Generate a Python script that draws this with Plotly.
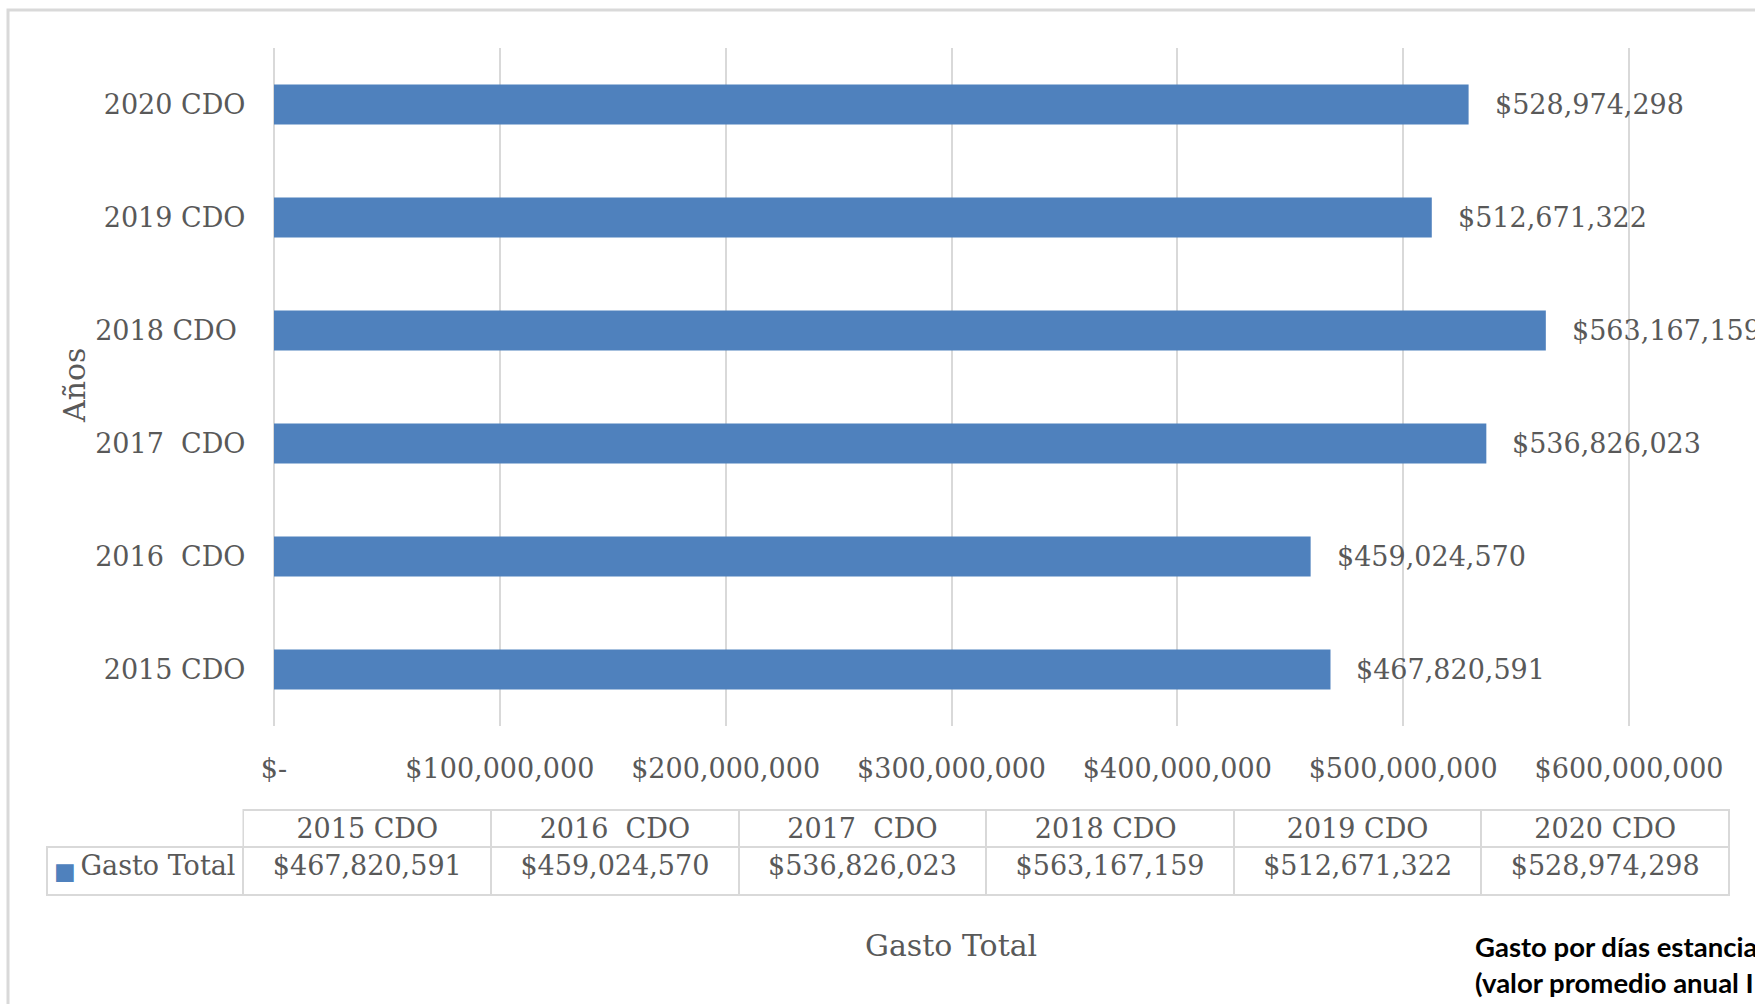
import plotly.graph_objects as go

# ---- data ----
categories = ["2015 CDO", "2016\u00a0 CDO", "2017\u00a0 CDO", "2018 CDO\u00a0", "2019 CDO", "2020 CDO"]
gasto_total = [467820591, 459024570, 536826023, 563167159, 512671322, 528974298]
x_tick_values = [0, 100000000, 200000000, 300000000, 400000000, 500000000, 600000000]
x_tick_labels = ["$-", "$100,000,000", "$200,000,000", "$300,000,000",
                 "$400,000,000", "$500,000,000", "$600,000,000"]
series_name = "Gasto Total"
y_title = "Años"
x_title = "Gasto Total"
note_text = "Gasto por días estancia<br>(valor promedio anual I"

W, H = 1755, 1004
BAR = "#4F81BD"
GRID = "#D9D9D9"
TXT = "#595959"
SERIF = "DejaVu Serif"
FS = 27


def px(x):
    return x / W


def py(y):
    return 1 - y / H


def money(v):
    return "${:,}".format(v)


# x axis: 0 at 274px, 600M at 1629px; pad the range a little so edge gridlines show
X0, X1 = 274.0, 1629.0
XMAX = 600000000
PAD = 2000000
ppu = (X1 - X0) / XMAX
x_domain = [px(X0 - PAD * ppu), px(X1 + PAD * ppu)]

fig = go.Figure()
fig.add_trace(go.Bar(
    y=categories, x=gasto_total, orientation="h",
    marker=dict(color=BAR, line=dict(width=0)),
    name=series_name, showlegend=False, hoverinfo="skip",
))

# data labels
for c, v in zip(categories, gasto_total):
    fig.add_annotation(x=v, y=c, xref="x", yref="y", text=money(v),
                       xanchor="left", yanchor="middle", xshift=24,
                       showarrow=False, font=dict(family=SERIF, size=FS, color=TXT))

# data table (legend key drawn as a separate glyph in the first cell)
ncol = len(categories)
line_cols = ["rgba(0,0,0,0)"] + [GRID] * ncol
fill_cols = ["rgba(0,0,0,0)"] + ["white"] * ncol
legend_cell = series_name.replace(" ", "\u00a0")
fig.add_trace(go.Table(
    domain=dict(x=[px(47), px(1729)], y=[py(899), py(810)]),
    columnwidth=[196] + [247] * ncol,
    header=dict(values=[""] + categories, height=37, align="center",
                line=dict(color=line_cols, width=2), fill=dict(color=fill_cols),
                font=dict(family=SERIF, size=FS, color=TXT)),
    cells=dict(values=[[legend_cell]] + [[money(v)] for v in gasto_total], height=48,
               align=["right"] + ["center"] * ncol,
               line=dict(color=GRID, width=2), fill=dict(color="white"),
               font=dict(family=SERIF, size=FS, color=TXT)),
))
fig.add_annotation(x=px(64.5), y=py(871), xref="paper", yref="paper", text="\u25A0",
                   showarrow=False, xanchor="center", yanchor="middle",
                   font=dict(family="DejaVu Sans", size=23, color=BAR))

# axis titles
fig.add_annotation(x=px(74), y=py(386), xref="paper", yref="paper", text=y_title,
                   textangle=-90, showarrow=False, xanchor="center", yanchor="middle",
                   font=dict(family=SERIF, size=30, color=TXT))
fig.add_annotation(x=px(951), y=py(945), xref="paper", yref="paper", text=x_title,
                   showarrow=False, xanchor="center", yanchor="middle",
                   font=dict(family=SERIF, size=30, color=TXT))
# note text
fig.add_annotation(x=px(1473), y=py(964), xref="paper", yref="paper", text=note_text,
                   showarrow=False, xanchor="left", yanchor="middle", align="left",
                   font=dict(family="Lato", size=27.5, color="black", weight="bold"))

# outer border
fig.add_shape(type="rect", xref="paper", yref="paper", x0=px(8), x1=1.02, y0=-0.02, y1=py(10),
              line=dict(color=GRID, width=3), fillcolor="rgba(0,0,0,0)", layer="below")

fig.update_layout(
    width=W, height=H, margin=dict(l=0, r=0, t=0, b=0, autoexpand=False),
    paper_bgcolor="white", plot_bgcolor="white",
    bargap=0.646,
    xaxis=dict(domain=x_domain, range=[-PAD, XMAX + PAD], automargin=False,
               tickmode="array", tickvals=x_tick_values, ticktext=x_tick_labels,
               showgrid=True, gridcolor=GRID, gridwidth=2, zeroline=False, showline=False,
               ticks="", ticklabelstandoff=24,
               tickfont=dict(family=SERIF, size=FS, color=TXT), fixedrange=True),
    yaxis=dict(domain=[py(726), py(48)], type="category", categoryorder="array",
               categoryarray=categories, range=[-0.5, 5.5], showgrid=False, automargin=False,
               zeroline=False, showline=False, ticks="", ticklabelstandoff=23,
               tickfont=dict(family=SERIF, size=FS, color=TXT), fixedrange=True),
)

fig.write_html(
    "out.html",
    config={"displayModeBar": False},
    post_script="document.body.style.margin='0';document.body.style.overflow='hidden';",
)
